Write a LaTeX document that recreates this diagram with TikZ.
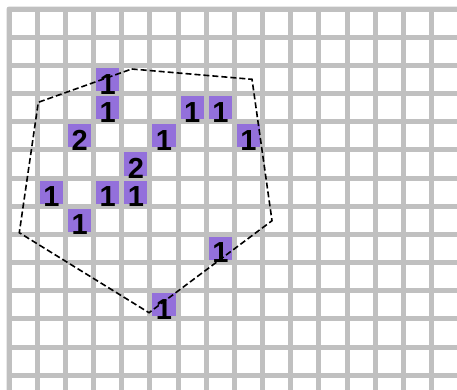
\documentclass[tikz,border=0pt]{standalone}
\usepackage{fontspec}
\setmainfont{Liberation Sans}
\definecolor{gridgray}{RGB}{192,192,192}
\definecolor{cellpurple}{RGB}{147,112,219}
\tikzset{
  cellbox/.style={fill=cellpurple, draw=none, minimum size=23.15pt, inner sep=0pt, outer sep=0pt},
  digit/.style={inner sep=0pt, font=\fontsize{29}{29}\selectfont\bfseries, text=black},
  hull/.style={draw=black, line width=1.6pt, dash pattern=on 6pt off 3pt},
}
\begin{document}
\begin{tikzpicture}[x=1pt,y=-1pt]
\useasboundingbox (0,0) rectangle (457,390);
\clip (0,0) rectangle (457,390);
% grid background
\fill[gridgray, rounded corners=2pt] (6.7,6.7) rectangle (470,400);
\foreach \i in {0,...,15} {
  \foreach \j in {0,...,13} {
    \fill[white] ({9.2+28.15*\i+2.5},{9.2+28.15*\j+2.5}) rectangle ++(23.15,23.15);
  }
}
% purple cells
\foreach \c/\r [count=\k] in {3/2,3/3,6/3,7/3,2/4,5/4,8/4,4/5,1/6,3/6,4/6,2/7,7/8,5/10} {
  \node[cellbox] (c\k) at ({9.2+28.15*(\c+0.5)},{9.2+28.15*(\r+0.5)}) {};
}
% dashed polygon
\coordinate (p1) at (131.7,69);
\coordinate (p2) at (252,79.3);
\coordinate (p3) at (272,220.7);
\coordinate (p4) at (149,312.7);
\coordinate (p5) at (19.3,232.7);
\coordinate (p6) at (38.3,102.3);
\draw[hull] (p1) -- (p2) -- (p3) -- (p4) -- (p5) -- (p6) -- cycle;
% digits
\foreach \n [count=\k] in {1,1,1,1,2,1,1,2,1,1,1,1,1,1} {
  \node[digit] (d\k) at ([yshift=-4.5pt]c\k.center) {\n};
}
\end{tikzpicture}
\end{document}
